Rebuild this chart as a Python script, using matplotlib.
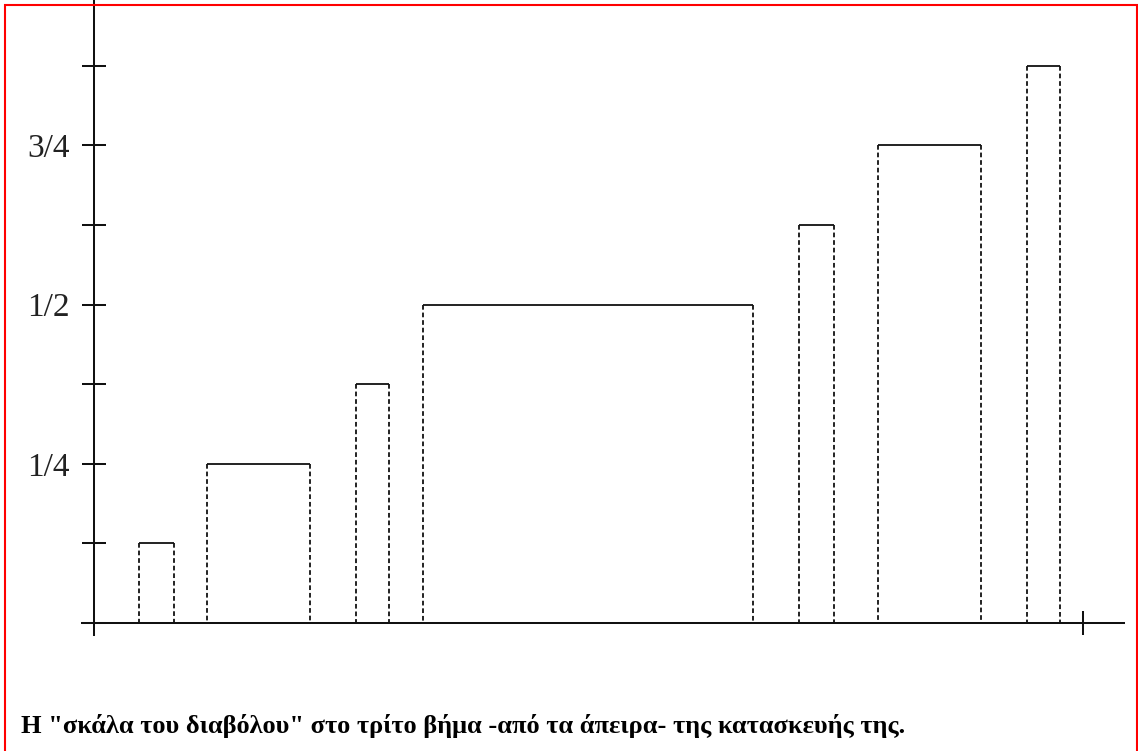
import matplotlib
matplotlib.use("Agg")
import matplotlib.pyplot as plt
from matplotlib.patches import Rectangle

# devil's staircase, third step: interval edges (x in [0, 1]) and plateau heights
left = [0.046, 0.115, 0.265, 0.333, 0.713, 0.793, 0.943]
right = [0.081, 0.219, 0.299, 0.667, 0.748, 0.897, 0.977]
heights = [1/8, 2/8, 3/8, 4/8, 5/8, 6/8, 7/8]

yticks = [0, 1/8, 2/8, 3/8, 4/8, 5/8, 6/8, 7/8]
ylabels = ["", "", "1/4", "", "1/2", "", "3/4", ""]
xticks = [0, 1]
caption = 'Η "σκάλα του διαβόλου" στο τρίτο βήμα -από τα άπειρα- της κατασκευής της.'

W, H = 1138, 751
fig = plt.figure(figsize=(W / 100, H / 100), dpi=100)
ax = fig.add_axes([0, 0, 1, 1])

# pixel mapping: x=0 -> 93.5px, x=1 -> 1083px ; y=0 -> 623px from top, 1/8 -> 79.6px
x0, sx = 93.5, 989.5
y0, sy = 623, 637
ax.set_xlim(-x0 / sx, (W - x0) / sx)
ax.set_ylim(-(H - y0) / sy, y0 / sy)
ax.patch.set_visible(False)

ink = "#111111"
lw_axis = 1.45
for s in ["top", "right"]:
    ax.spines[s].set_visible(False)
ax.spines["left"].set_position(("data", 0))
ax.spines["bottom"].set_position(("data", 0))
ax.spines["left"].set_bounds(-12 / sy, y0 / sy)
ax.spines["bottom"].set_bounds((82 - x0) / sx, (1124 - x0) / sx)
for s in ["left", "bottom"]:
    ax.spines[s].set_linewidth(lw_axis)
    ax.spines[s].set_color(ink)

ax.set_yticks(yticks)
ax.set_yticklabels(ylabels)
ax.set_xticks(xticks)
ax.set_xticklabels(["", ""])
ax.tick_params(direction="inout", length=17.3, width=lw_axis, color=ink)
ax.tick_params(axis="y", pad=8.5, labelsize=24, labelcolor="#222222")
for t in ax.get_yticklabels():
    t.set_fontfamily("Liberation Serif")
# no tick at x=0 visible on its own (the y axis passes there)
ax.xaxis.get_major_ticks()[0].tick1line.set_visible(False)

# bars: solid top, dashed sides
ax.hlines(heights, left, right, colors=ink, linewidth=1.3)
ax.vlines(left, heights, 0, colors=ink, linewidth=1.3, linestyles=(0, (2.6, 1.6)))
ax.vlines(right, heights, 0, colors=ink, linewidth=1.3, linestyles=(0, (2.6, 1.6)))

fig.text(21 / W, 1 - 733 / H, caption, family="Liberation Serif", weight="bold",
         fontsize=19, color="black", va="baseline", ha="left")

# red frame around the picture
fig.patches.append(Rectangle((4.8 / W, -0.05), (1137.3 - 4.8) / W, 1 - 4.8 / H + 0.05,
                             transform=fig.transFigure, fill=False,
                             edgecolor="#ff0000", linewidth=1.5, zorder=5))

fig.savefig("out.png", dpi=100)
